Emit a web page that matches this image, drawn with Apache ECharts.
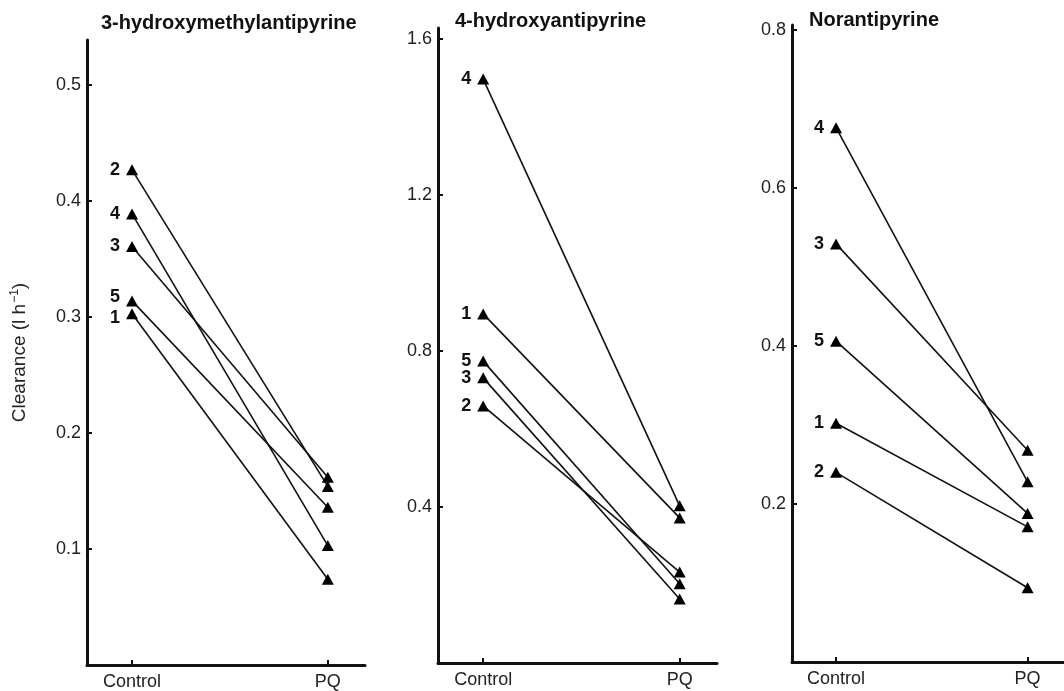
<!DOCTYPE html>
<html>
<head>
<meta charset="utf-8">
<script src="https://cdn.jsdelivr.net/npm/echarts@6/dist/echarts.min.js"></script>
<style>
  html, body { margin: 0; padding: 0; background: #fff; }
  #main { width: 1064px; height: 691px; }
</style>
</head>
<body>
<div id="main"></div>
<script>
// panel titles
var panelTitles = ['3-hydroxymethylantipyrine', '4-hydroxyantipyrine', 'Norantipyrine'];
var xLabels = ['Control', 'PQ'];
var subjectIds = ['1', '2', '3', '4', '5'];

// clearance per subject (order 1..5), control and PQ
var hmaControl = [0.303, 0.427, 0.361, 0.389, 0.314];
var hmaPQ      = [0.074, 0.154, 0.162, 0.103, 0.136];

var ohaControl = [0.895, 0.659, 0.731, 1.497, 0.774];
var ohaPQ      = [0.372, 0.233, 0.164, 0.403, 0.203];

var norControl = [0.302, 0.240, 0.529, 0.676, 0.406];
var norPQ      = [0.171, 0.094, 0.268, 0.228, 0.188];

// y tick labels and axis tops per panel
var yTicks = [
  [0.1, 0.2, 0.3, 0.4, 0.5],
  [0.4, 0.8, 1.2, 1.6],
  [0.2, 0.4, 0.6, 0.8]
];
var yMax = [0.539, 1.628, 0.806];

var controls = [hmaControl, ohaControl, norControl];
var pqs = [hmaPQ, ohaPQ, norPQ];

var grids = [
  { left: 87, top: 40, width: 278, height: 626 },
  { left: 438, top: 28, width: 279, height: 635 },
  { left: 792, top: 25, width: 280, height: 637 }
];
var titlePos = [[101, 13], [455, 11], [809, 10]];

var font = '"Liberation Sans", Arial, sans-serif';
var chart = echarts.init(document.getElementById('main'));

var option = {
  backgroundColor: '#fff',
  animation: false,
  title: [],
  grid: grids,
  xAxis: [],
  yAxis: [],
  series: []
};

for (var p = 0; p < 3; p++) {
  option.title.push({
    text: panelTitles[p],
    left: titlePos[p][0],
    top: titlePos[p][1],
    padding: 0,
    textStyle: { fontFamily: font, fontSize: 20, fontWeight: 'bold', color: '#111' }
  });
  option.xAxis.push({
    type: 'value',
    gridIndex: p,
    min: -0.23,
    max: 1.19,
    splitLine: { show: false },
    axisLine: { show: true, onZero: false, lineStyle: { color: '#111', width: 3 } },
    axisTick: { show: true, inside: true, length: 5, lineStyle: { color: '#111', width: 2 }, customValues: [0, 1] },
    axisLabel: {
      customValues: [0, 1],
      margin: 8,
      fontFamily: font, fontSize: 18, color: '#222',
      formatter: function (v) { return v === 0 ? xLabels[0] : xLabels[1]; }
    }
  });
  var ya = {
    type: 'value',
    gridIndex: p,
    min: 0,
    max: yMax[p],
    splitLine: { show: false },
    axisLine: { show: true, onZero: false, lineStyle: { color: '#111', width: 3 } },
    axisTick: { show: true, inside: true, length: 5, lineStyle: { color: '#111', width: 2 }, customValues: yTicks[p] },
    axisLabel: {
      customValues: yTicks[p],
      margin: 6,
      fontFamily: font, fontSize: 18, color: '#222',
      formatter: function (v) { return String(v); }
    }
  };
  if (p === 0) {
    ya.name = '{a|Clearance (l h}{s|−1}{a|)}';
    ya.nameLocation = 'middle';
    ya.nameGap = 56;
    ya.nameTextStyle = {
      rich: {
        a: { fontFamily: font, fontSize: 19, color: '#222' },
        s: { fontFamily: font, fontSize: 12, color: '#222', verticalAlign: 'top', padding: [0, 0, 10, 1] }
      }
    };
  }
  option.yAxis.push(ya);

  for (var i = 0; i < subjectIds.length; i++) {
    // nudge the crowded "5"/"1" labels apart in the first panel
    var nudge = [0, 0];
    if (p === 0 && subjectIds[i] === '5') nudge = [0, -4];
    if (p === 0 && subjectIds[i] === '1') nudge = [0, 4];
    option.series.push({
      type: 'line',
      xAxisIndex: p,
      yAxisIndex: p,
      symbol: 'triangle',
      symbolSize: [12, 11],
      itemStyle: { color: '#000' },
      lineStyle: { color: '#111', width: 1.6 },
      data: [
        {
          value: [0, controls[p][i]],
          label: {
            show: true,
            position: 'left',
            distance: 6,
            offset: nudge,
            formatter: subjectIds[i],
            fontFamily: font, fontSize: 18, fontWeight: 'bold', color: '#111'
          }
        },
        { value: [1, pqs[p][i]] }
      ]
    });
  }
}

chart.setOption(option);
</script>
</body>
</html>
